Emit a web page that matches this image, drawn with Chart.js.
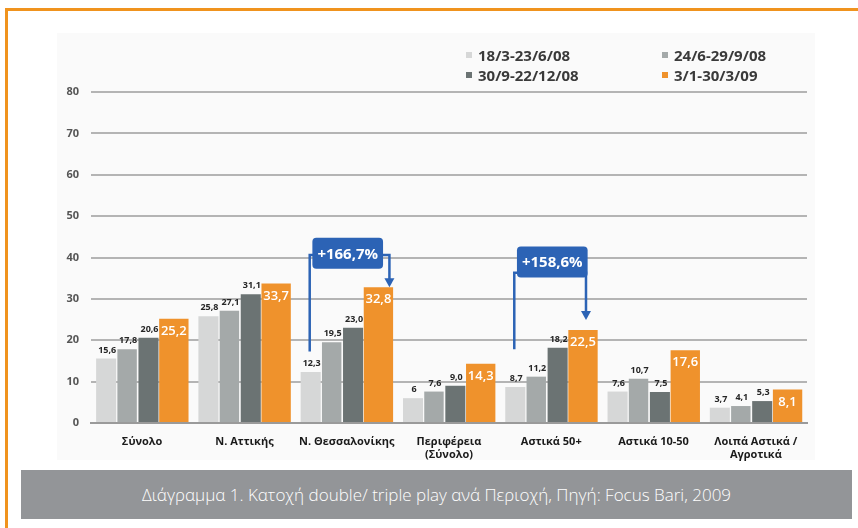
<!DOCTYPE html>
<html>
<head>
<meta charset="utf-8">
<script src="https://cdn.jsdelivr.net/npm/chart.js@4.4.0/dist/chart.umd.min.js"></script>
<style>
  html, body { margin: 0; padding: 0; background: #fff; }
  #page { position: relative; width: 858px; height: 528px; overflow: hidden; }
  #frame { position: absolute; left: 5px; top: 8px; right: -10px; bottom: -10px;
           border-top: 3px solid #f0931e; border-left: 3px solid #f0931e; }
  #panel { position: absolute; left: 57px; top: 33px; width: 758px; height: 427px; background: #fafafa; }
  #chartBox { position: absolute; left: 0; top: 0; width: 858px; height: 528px; }
  #legend { position: absolute; left: 466px; top: 45px; display: grid;
            grid-template-columns: 196px auto; grid-auto-rows: 20px;
            font-family: "Open Sans", sans-serif; font-weight: bold;
            font-size: 15px; color: #3a3a3a; }
  #legend .item { display: flex; align-items: center; white-space: nowrap; }
  #legend .swatch { width: 6px; height: 6px; margin-right: 6px; }
  #caption { position: absolute; left: 21px; top: 470px; width: 831px; height: 49px;
             background: #939598; color: #fff; text-align: center; line-height: 49px;
             font-family: "Open Sans", sans-serif; font-weight: 300; font-size: 17px; }
</style>
</head>
<body>
<div id="page">
  <div id="frame"></div>
  <div id="panel"></div>
  <div id="chartBox"><canvas id="chart"></canvas></div>
  <div id="legend"></div>
  <div id="caption">Διάγραμμα 1. Κατοχή double/ triple play ανά Περιοχή, Πηγή: Focus Bari, 2009</div>
</div>
<script>
// categories (regions) and the four survey periods
const regions = ['Σύνολο', 'Ν. Αττικής', 'Ν. Θεσσαλονίκης', ['Περιφέρεια', '(Σύνολο)'],
                 'Αστικά 50+', 'Αστικά 10-50', ['Λοιπά Αστικά /', 'Αγροτικά']];
const periods = ['18/3-23/6/08', '24/6-29/9/08', '30/9-22/12/08', '3/1-30/3/09'];

const period1 = [15.6, 25.8, 12.3, 6, 8.7, 7.6, 3.7];
const period2 = [17.8, 27.1, 19.5, 7.6, 11.2, 10.7, 4.1];
const period3 = [20.6, 31.1, 23.0, 9.0, 18.2, 7.5, 5.3];
const period4 = [25.2, 33.7, 32.8, 14.3, 22.5, 17.6, 8.1];

const yTicks = [0, 10, 20, 30, 40, 50, 60, 70, 80];

// growth call-outs: region index and text
const changeRegions = [2, 4];
const changeTexts = ['+166,7%', '+158,6%'];

const colors = ['#d6d7d7', '#a4a9a9', '#6b7373', '#ef922c'];
const FONT = '"Open Sans", sans-serif';

// put bar i (of 4) at a centre offset and width given as parts of the category width
function slot(i, centre, width) {
    const f = (i + 0.5) / 4 - 0.5;
    const cat = centre / f;
    return { categoryPercentage: cat, barPercentage: width / (cat / 4) };
}
const slots = [slot(0, -0.352, 0.196), slot(1, -0.147, 0.19), slot(2, 0.062, 0.196), slot(3, 0.31, 0.287)];

function fmt(v, i) {
    if (i === 0 && Number.isInteger(v)) return String(v);
    return v.toFixed(1).replace('.', ',');
}

// legend
const legend = document.getElementById('legend');
periods.forEach(function (p, i) {
    const item = document.createElement('div');
    item.className = 'item';
    item.innerHTML = '<span class="swatch" style="background:' + colors[i] + '"></span>' + p;
    legend.appendChild(item);
});

// value labels on the bars
const barLabels = {
    id: 'barLabels',
    afterDatasetsDraw(chart) {
        const ctx = chart.ctx;
        chart.data.datasets.forEach(function (ds, i) {
            chart.getDatasetMeta(i).data.forEach(function (bar, j) {
                const text = fmt(ds.data[j], i);
                ctx.save();
                ctx.textAlign = 'center';
                if (i === 3) {
                    ctx.font = '600 13px ' + FONT;
                    ctx.fillStyle = '#ffffff';
                    ctx.textBaseline = 'top';
                    ctx.fillText(text, bar.x, bar.y + 6);
                } else {
                    ctx.font = 'bold 9px ' + FONT;
                    ctx.fillStyle = '#262626';
                    ctx.textBaseline = 'bottom';
                    ctx.fillText(text, bar.x + 1, bar.y - 4);
                }
                ctx.restore();
            });
        });
    }
};

// blue boxes with bracket arrows
const changeArrows = {
    id: 'changeArrows',
    afterDatasetsDraw(chart, args, opts) {
        const ctx = chart.ctx;
        const ys = chart.scales.y, xs = chart.scales.x;
        changeRegions.forEach(function (r, k) {
            const o = opts.items[k];
            const first = chart.getDatasetMeta(0).data[r];
            const last = chart.getDatasetMeta(3).data[r];
            const cx = xs.getPixelForValue(r) + 1;
            const cy = ys.getPixelForValue(o.box);
            const by = ys.getPixelForValue(o.bracket);
            const lx = first.x - 1;
            const rx = last.x + o.shift;
            const tip = last.y - o.gap;

            ctx.save();
            ctx.strokeStyle = '#2c63b5';
            ctx.fillStyle = '#2c63b5';
            ctx.lineWidth = 2.5;
            ctx.beginPath();
            ctx.moveTo(lx, ys.getPixelForValue(o.from));
            ctx.lineTo(lx, by);
            ctx.lineTo(rx, by);
            ctx.lineTo(rx, tip - 8);
            ctx.stroke();
            ctx.beginPath();
            ctx.moveTo(rx - 5, tip - 9);
            ctx.lineTo(rx + 5, tip - 9);
            ctx.lineTo(rx, tip);
            ctx.closePath();
            ctx.fill();

            ctx.font = 'bold 15px ' + FONT;
            const w = ctx.measureText(changeTexts[k]).width + 10;
            const h = 31;
            ctx.beginPath();
            ctx.roundRect(cx - w / 2, cy - h / 2, w, h, 4);
            ctx.fill();
            ctx.fillStyle = '#ffffff';
            ctx.textAlign = 'center';
            ctx.textBaseline = 'middle';
            ctx.fillText(changeTexts[k], cx, cy + 1);
            ctx.restore();
        });
    }
};

const datasets = [period1, period2, period3, period4].map(function (d, i) {
    return Object.assign({
        label: periods[i],
        data: d,
        backgroundColor: colors[i]
    }, slots[i]);
});

new Chart(document.getElementById('chart'), {
    type: 'bar',
    data: { labels: regions, datasets: datasets },
    options: {
        responsive: true,
        maintainAspectRatio: false,
        animation: false,
        layout: { padding: { left: 0, right: 51, top: 92, bottom: 0 } },
        plugins: {
            legend: { display: false },
            tooltip: { enabled: false },
            changeArrows: {
                items: [
                    { box: 41.0, bracket: 40.6, from: 17.3, shift: 11, gap: 0 },
                    { box: 38.9, bracket: 36.3, from: 17.8, shift: 3, gap: 10 }
                ]
            }
        },
        scales: {
            x: {
                grid: { display: false },
                border: { color: '#9a9a9a', width: 2 },
                ticks: { font: { family: FONT, size: 11, weight: 'bold' }, color: '#1a1a1a',
                         padding: 4, maxRotation: 0, autoSkip: false },
                afterFit: function (s) { s.height = 105; }
            },
            y: {
                min: 0, max: 80,
                afterBuildTicks: function (s) { s.ticks = yTicks.map(function (v) { return { value: v }; }); },
                grid: { color: '#b4b4b4', lineWidth: 2, drawTicks: false },
                border: { display: false },
                ticks: { font: { family: FONT, size: 11, weight: 'bold' }, color: '#555555', padding: 12 },
                afterFit: function (s) { s.width = 91; }
            }
        }
    },
    plugins: [barLabels, changeArrows]
});
</script>
</body>
</html>
